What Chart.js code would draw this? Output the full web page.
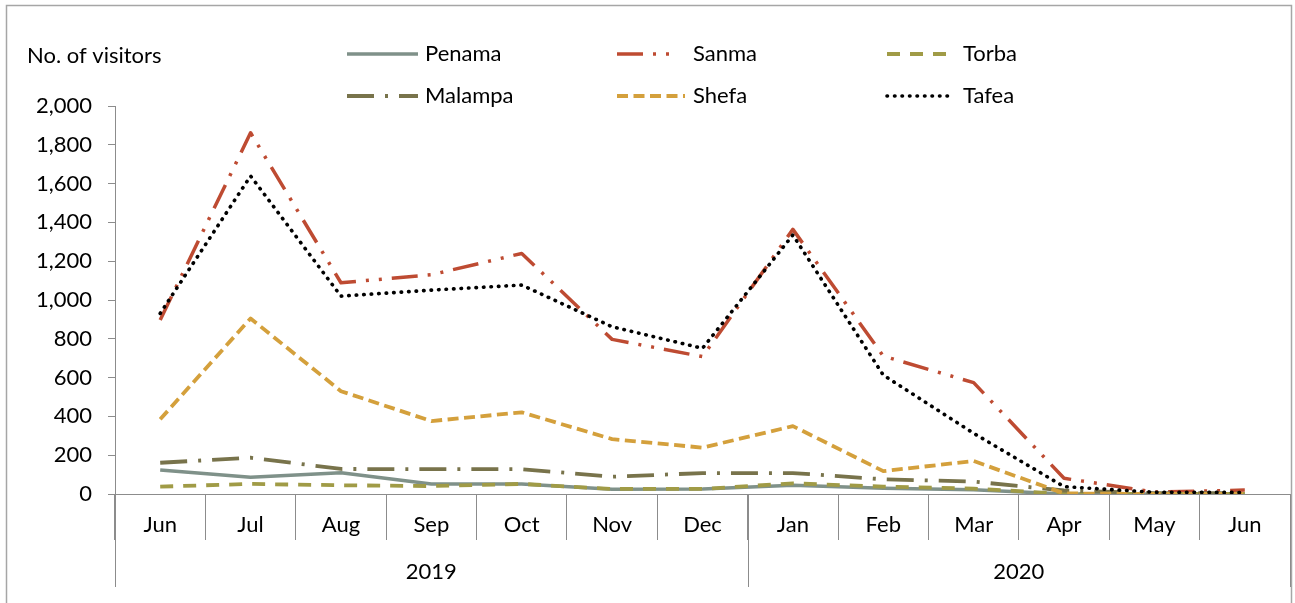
<!DOCTYPE html>
<html><head><meta charset="utf-8">
<script src="https://cdn.jsdelivr.net/npm/chart.js@4.4.1/dist/chart.umd.min.js"></script>
<style>html,body{margin:0;padding:0;background:#fff}canvas{display:block}</style>
</head><body>
<canvas id="c" width="1295" height="603"></canvas>
<script>
// ---- data ----
const months = ['Jun','Jul','Aug','Sep','Oct','Nov','Dec','Jan','Feb','Mar','Apr','May','Jun'];
const years = ['2019','2020'];
const yearSpans = [7, 6];
const penama  = [124, 86, 110, 52, 52, 24, 26, 45, 30, 22, 0, 0, 0];
const sanma   = [897, 1862, 1089, 1130, 1240, 797, 708, 1364, 711, 574, 81, 10, 20];
const torba   = [38, 52, 45, 41, 52, 26, 26, 55, 38, 28, 1, 0, 0];
const malampa = [161, 187, 129, 128, 128, 89, 108, 108, 76, 64, 18, 5, 5];
const shefa   = [385, 905, 530, 376, 421, 283, 239, 350, 118, 170, 3, 0, 0];
const tafea   = [931, 1639, 1020, 1051, 1077, 862, 751, 1335, 613, 313, 38, 9, 8];
const yMax = 2000, yStep = 200;
const yTitle = 'No. of visitors';

const FONT = 'Lato, "Open Sans", sans-serif';
const FS = 22;
Chart.defaults.font.family = FONT;
Chart.defaults.font.size = FS;
Chart.defaults.color = '#000';

const series = [
  {label:'Penama',  data:penama,  color:'#7f9189', dash:[],                 cap:'butt',  w:3.5, order:5},
  {label:'Sanma',   data:sanma,   color:'#be4b32', dash:[26,10,3,10,3,10],  cap:'butt',  w:3.5, order:4},
  {label:'Torba',   data:torba,   color:'#a09b46', dash:[13,10],            cap:'butt',  w:3.8, order:3},
  {label:'Malampa', data:malampa, color:'#78734b', dash:[27,11,3,11],       cap:'butt',  w:3.8, order:2},
  {label:'Shefa',   data:shefa,   color:'#d4a03c', dash:[11,5.5],           cap:'butt',  w:3.8, order:1},
  {label:'Tafea',   data:tafea,   color:'#000000', dash:[0.5,7],            cap:'round', w:3.6, order:0}
];

const legendPos = [
  {x:347, x2:418, tx:425, y:54},
  {x:617, x2:677, tx:693, y:54},
  {x:887, x2:950, tx:963, y:54},
  {x:347, x2:418, tx:425, y:96},
  {x:617, x2:685, tx:693, y:96},
  {x:887, x2:950, tx:963, y:96}
];

const GRAY = '#8c8c8c';

const decor = {
  id: 'decor',
  afterDraw(chart) {
    const ctx = chart.ctx;
    const xs = chart.scales.x;
    ctx.save();
    // frame
    ctx.strokeStyle = '#a6a6a6';
    ctx.lineWidth = 1.5;
    ctx.strokeRect(6.5, 5.5, 1285, 640);
    // y title
    ctx.fillStyle = '#000';
    ctx.font = FS + 'px ' + FONT;
    ctx.textAlign = 'left';
    ctx.textBaseline = 'middle';
    ctx.fillText(yTitle, 27, 56);
    // year groups
    const half = (xs.getPixelForValue(1) - xs.getPixelForValue(0)) / 2;
    const y0 = xs.top, y1 = 587;
    ctx.strokeStyle = GRAY;
    ctx.lineWidth = 1;
    let idx = 0;
    const bounds = [xs.getPixelForValue(0) - half];
    yearSpans.forEach(s => { idx += s; bounds.push(xs.getPixelForValue(idx - 1) + half); });
    bounds.forEach(b => {
      const bx = Math.round(b) + 0.5;
      ctx.beginPath(); ctx.moveTo(bx, y0); ctx.lineTo(bx, y1); ctx.stroke();
    });
    ctx.textAlign = 'center';
    years.forEach((yr, i) => {
      ctx.fillText(yr, (bounds[i] + bounds[i+1]) / 2, 572);
    });
    // legend
    series.forEach((s, i) => {
      const p = legendPos[i];
      ctx.strokeStyle = s.color;
      ctx.lineWidth = s.w;
      ctx.lineCap = s.cap;
      ctx.setLineDash(s.dash);
      ctx.beginPath(); ctx.moveTo(p.x, p.y); ctx.lineTo(p.x2, p.y); ctx.stroke();
      ctx.setLineDash([]);
      ctx.fillStyle = '#000';
      ctx.textAlign = 'left';
      ctx.fillText(s.label, p.tx, p.y);
    });
    ctx.restore();
  }
};

new Chart(document.getElementById('c'), {
  type: 'line',
  data: {
    labels: months,
    datasets: series.map(s => ({
      label: s.label,
      data: s.data,
      borderColor: s.color,
      backgroundColor: s.color,
      borderWidth: s.w,
      borderDash: s.dash,
      borderCapStyle: s.cap,
      borderJoinStyle: 'round',
      pointRadius: 0,
      tension: 0,
      fill: false,
      order: s.order
    }))
  },
  options: {
    responsive: false,
    animation: false,
    events: [],
    layout: { padding: { top: 106, left: 0, right: 5, bottom: 0 } },
    plugins: { legend: { display: false }, tooltip: { enabled: false }, title: { display: false } },
    scales: {
      x: {
        offset: true,
        grid: { display: true, drawOnChartArea: false, offset: true, tickLength: 46, color: GRAY, lineWidth: 1 },
        border: { color: GRAY, width: 1 },
        ticks: { padding: -28, maxRotation: 0, autoSkip: false, color: '#000', font: { size: FS } },
        afterFit(scale) { scale.height = 109; }
      },
      y: {
        min: 0, max: yMax,
        grid: { display: true, drawOnChartArea: false, tickLength: 7, color: GRAY },
        border: { color: GRAY, width: 1 },
        ticks: { stepSize: yStep, padding: 16, color: '#000', font: { size: FS } },
        afterFit(scale) { scale.width = 115; }
      }
    }
  },
  plugins: [decor]
});
</script>
</body></html>
